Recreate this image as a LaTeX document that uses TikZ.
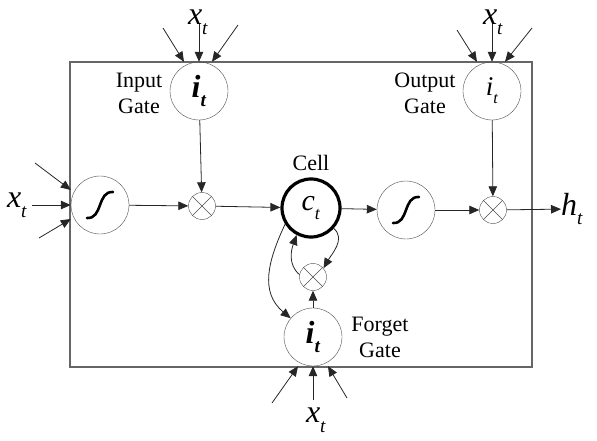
\documentclass[tikz,border=0pt]{standalone}
\usepackage{fontspec}
\setmainfont{Liberation Serif}
\usepackage{graphicx}
\usetikzlibrary{arrows.meta, positioning}
\newcommand{\lstmvar}[2]{\textit{#1}\raisebox{-0.3em}{\scalebox{0.6}{\textit{#2}}}}

\begin{document}
\begin{tikzpicture}[x=1pt, y=-1pt,
  gate/.style={draw=black!70, circle, minimum size=58pt, inner sep=0pt,
    font=\fontsize{32}{32}\selectfont},
  mult/.style={draw=black!70, circle, minimum size=27pt, inner sep=0pt},
  cellnode/.style={draw=black, circle, line width=3.2pt, minimum size=58pt,
    inner sep=0pt, font=\fontsize{30}{30}\selectfont},
  arr/.style={-{Triangle[length=10pt, width=8.5pt]}, line width=0.8pt, black!85},
  sig/.style={line width=2.6pt, line cap=round},
  frame/.style={draw=black!60, line width=1.1pt},
  note/.style={font=\fontsize{22}{26}\selectfont, align=center, inner sep=0pt},
  var/.style={font=\fontsize{32}{32}\selectfont, inner sep=0pt}
]
  \useasboundingbox (0,0) rectangle (597,441);

  % Block frame
  \draw[frame] (70,62) rectangle (532,367);

  % Gates
  \node[gate] (ig) at (199,91) {\textbf{\lstmvar{i}{t}}};
  \node[gate, font=\fontsize{27}{27}\selectfont] (og) at (492,91) {\lstmvar{i}{t}};
  \node[gate] (fg) at (313,337) {\textbf{\lstmvar{i}{t}}};
  \node[note] (igl) at (139,93) {Input\\Gate};
  \node[note] (ogl) at (425,93) {Output\\Gate};
  \node[note] (fgl) at (380,337) {Forget\\Gate};

  % Squashing units
  \node[gate] (sL) at (100,205) {};
  \node[gate] (sR) at (406,210) {};
  \draw[sig, shift={(sL.center)}] (-13,13) .. controls (3,14) and (-3,-14) .. (13,-13);
  \draw[sig, shift={(sR.center)}] (-13,13) .. controls (3,14) and (-3,-14) .. (13,-13);

  % Multipliers
  \node[mult] (mL) at (202,206) {};
  \node[mult] (mR) at (493,210) {};
  \node[mult] (mF) at (313,277) {};
  \draw[black!70] (mL.north west) -- (mL.south east) (mL.north east) -- (mL.south west);
  \draw[black!70] (mR.north west) -- (mR.south east) (mR.north east) -- (mR.south west);
  \draw[black!70] (mF.north west) -- (mF.south east) (mF.north east) -- (mF.south west);

  % Cell
  \node[cellnode] (cell) at (311,208) {\lstmvar{c}{t}};
  \node[note] (celll) at (311,163) {Cell};

  % Inputs and output
  \node[var] (xi) at (198,22) {\lstmvar{x}{t}};
  \node[var] (xo) at (493,22) {\lstmvar{x}{t}};
  \node[var] (xf) at (316,420) {\lstmvar{x}{t}};
  \node[var] (xl) at (17,205) {\lstmvar{x}{t}};
  \node[var, anchor=west] (ht) at (561,209) {\lstmvar{h}{t}};

  \coordinate (i1) at (163,28);
  \coordinate (i2) at (199,24);
  \coordinate (i3) at (238,25);
  \coordinate (o1) at (457,30);
  \coordinate (o2) at (492,24);
  \coordinate (o3) at (532,28);
  \coordinate (f1) at (272,403);
  \coordinate (f2) at (313,400);
  \coordinate (f3) at (347,398);
  \coordinate (l1) at (35,163);
  \coordinate (l2) at (32,205);
  \coordinate (l3) at (39,238);

  \draw[arr] (i1) -- ([xshift=-15pt]ig.north);
  \draw[arr] (i2) -- (ig.north);
  \draw[arr] (i3) -- ([xshift=13pt]ig.north);
  \draw[arr] (o1) -- ([xshift=-15pt]og.north);
  \draw[arr] (o2) -- (og.north);
  \draw[arr] (o3) -- ([xshift=13pt]og.north);
  \draw[arr] (f1) -- ([xshift=-15pt]fg.south);
  \draw[arr] (f2) -- (fg.south);
  \draw[arr] (f3) -- ([xshift=15pt]fg.south);
  \draw[arr] (l1) -- ([yshift=15pt]sL.west);
  \draw[arr] (l2) -- (sL.west);
  \draw[arr] (l3) -- ([yshift=-14pt]sL.west);

  % Main path
  \draw[arr] (sL) -- (mL);
  \draw[arr] (ig) -- (mL);
  \draw[arr] (mL) -- (cell);
  \draw[arr] (cell) -- (sR);
  \draw[arr] (sR) -- (mR);
  \draw[arr] (og) -- (mR);
  \draw[arr] (mR) -- (ht);

  % Recurrent loops
  \draw[arr] (fg) -- (mF);
  \draw[arr] (mF.170) to[out=140, in=250] (cell.242);
  \draw[arr] (cell.318) to[out=-40, in=60] (mF.40);
  \draw[arr] (cell.212) to[out=245, in=140, looseness=1.1] (fg.140);
\end{tikzpicture}
\end{document}
